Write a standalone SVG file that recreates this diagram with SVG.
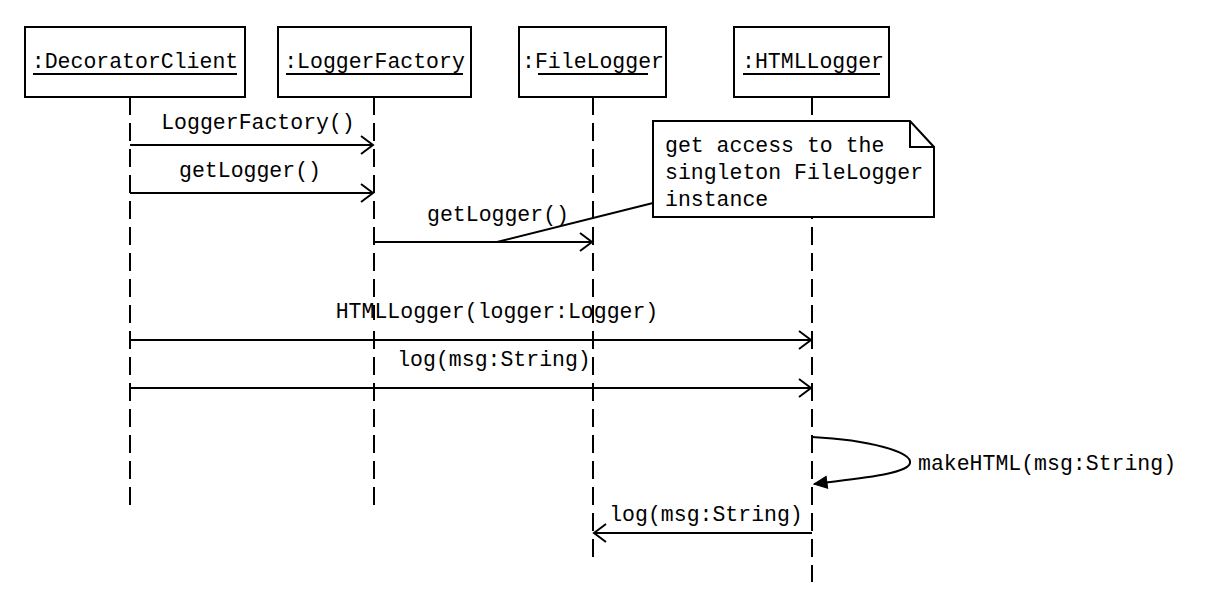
<svg xmlns="http://www.w3.org/2000/svg" width="1208" height="592" viewBox="0 0 1208 592">
<style>
text{font-family:"Liberation Mono","Courier New",monospace;font-size:21.5px;fill:#000}
.box{fill:#fff;stroke:#000;stroke-width:2}
.life{stroke:#000;stroke-width:2;stroke-dasharray:18 8;fill:none}
.msg{stroke:#000;stroke-width:2;fill:none}
.ul{stroke:#000;stroke-width:2}
</style>
<defs>
<marker id="open" markerUnits="userSpaceOnUse" markerWidth="30" markerHeight="30" viewBox="-15 -15 30 30" refX="0" refY="0" orient="auto">
<path d="M-12,-9 L0,0 L-12,9" fill="none" stroke="#000" stroke-width="2"/>
</marker>
<marker id="filled" markerUnits="userSpaceOnUse" markerWidth="30" markerHeight="30" viewBox="-15 -15 30 30" refX="0" refY="0" orient="auto">
<path d="M-13,-6 L0,0 L-13,6 Z" fill="#000" stroke="#000" stroke-width="1"/>
</marker>
</defs>
<rect width="1208" height="592" fill="#fff"/>
<g id="lifelines">
<line class="life" x1="130" y1="97" x2="130" y2="510"/>
<line class="life" x1="374" y1="97" x2="374" y2="510"/>
<line class="life" x1="593" y1="97" x2="593" y2="560"/>
<line class="life" x1="812" y1="97" x2="812" y2="582"/>
</g>
<g id="decoratorClient">
<rect class="box" x="25" y="27" width="220" height="70"/>
<text x="135" y="68" text-anchor="middle">:DecoratorClient</text>
<line class="ul" x1="33" y1="74" x2="237" y2="74"/>
</g>
<g id="loggerFactory">
<rect class="box" x="278" y="27" width="193" height="70"/>
<text x="374.5" y="68" text-anchor="middle">:LoggerFactory</text>
<line class="ul" x1="286" y1="74" x2="463" y2="74"/>
</g>
<g id="fileLogger">
<rect class="box" x="519" y="27" width="147" height="70"/>
<text x="593" y="68" text-anchor="middle">:FileLogger</text>
<line class="ul" x1="538" y1="74" x2="648" y2="74"/>
</g>
<g id="htmlLogger">
<rect class="box" x="734" y="27" width="155" height="70"/>
<text x="813" y="68" text-anchor="middle">:HTMLLogger</text>
<line class="ul" x1="743" y1="74" x2="880" y2="74"/>
</g>
<g id="note">
<path class="box" d="M653,121 L910,121 L934,147 L934,217 L653,217 Z"/>
<path d="M910,121 L910,147 L934,147" fill="none" stroke="#000" stroke-width="2"/>
<text x="665" y="152">get access to the</text>
<text x="665" y="179">singleton FileLogger</text>
<text x="665" y="206">instance</text>
</g>
<g id="connectors">
<line class="msg" x1="130" y1="145" x2="373" y2="145" marker-end="url(#open)"/>
<line class="msg" x1="130" y1="193" x2="373" y2="193" marker-end="url(#open)"/>
<line class="msg" x1="374" y1="242" x2="592" y2="242" marker-end="url(#open)"/>
<line class="msg" x1="497" y1="242" x2="653" y2="203"/>
<line class="msg" x1="130" y1="340" x2="811" y2="340" marker-end="url(#open)"/>
<line class="msg" x1="130" y1="388" x2="811" y2="388" marker-end="url(#open)"/>
<path class="msg" d="M812,437 C870,440 912,452 910,463 C908,474 860,478 814,484" marker-end="url(#filled)"/>
<line class="msg" x1="812" y1="533" x2="594" y2="533" marker-end="url(#open)"/>
</g>
<g id="labels">
<text x="258" y="129" text-anchor="middle">LoggerFactory()</text>
<text x="250" y="177" text-anchor="middle">getLogger()</text>
<text x="498" y="221" text-anchor="middle">getLogger()</text>
<rect x="366" y="320" width="16" height="10" fill="#fff"/>
<text x="497" y="318" text-anchor="middle">HTMLLogger(logger:Logger)</text>
<text x="494" y="366" text-anchor="middle">log(msg:String)</text>
<text x="918" y="470">makeHTML(msg:String)</text>
<text x="706" y="521" text-anchor="middle">log(msg:String)</text>
</g>
</svg>
